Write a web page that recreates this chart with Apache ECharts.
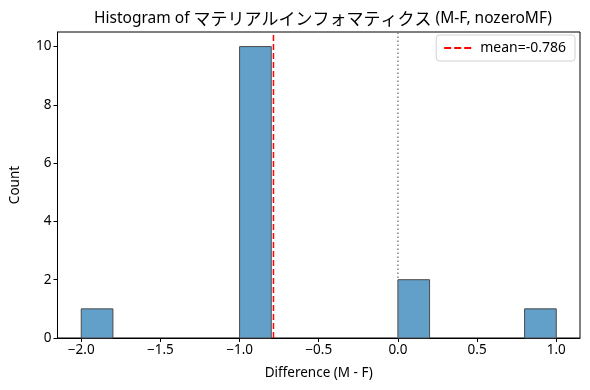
<!DOCTYPE html>
<html><head><meta charset="utf-8">
<script src="https://cdn.jsdelivr.net/npm/echarts@6/dist/echarts.min.js"></script>
<style>html,body{margin:0;padding:0;background:#fff}#c{width:590px;height:390px}</style>
</head><body><div id="c"></div>
<script>
const binStarts = [-2.0, -1.8, -1.6, -1.4, -1.2, -1.0, -0.8, -0.6, -0.4, -0.2, 0.0, 0.2, 0.4, 0.6, 0.8];
const binWidth = 0.2;
const counts = [1, 0, 0, 0, 0, 10, 0, 0, 0, 0, 2, 0, 0, 0, 1];
const meanValue = -0.786;
const zeroLine = 0;
const xTicks = [-2.0, -1.5, -1.0, -0.5, 0.0, 0.5, 1.0];
const yTicks = [0, 2, 4, 6, 8, 10];
const titleParts = ['Histogram of ', 'マテリアルインフォマティクス', ' (M-F, nozeroMF)'];
const xName = 'Difference (M - F)';
const yName = 'Count';
const legendLabel = 'mean=' + meanValue.toFixed(3);

const font = '"Noto Sans", "Noto Sans CJK JP", sans-serif';
const jpFont = '"Noto Sans CJK JP", sans-serif';
const chart = echarts.init(document.getElementById('c'), null, {renderer: 'canvas'});
const fmt = v => (v < 0 ? '\u2212' : '') + Math.abs(v).toFixed(1);
const barData = binStarts.map((s, i) => [s, s + binWidth, counts[i]]).filter(d => d[2] > 0);

chart.setOption({
  animation: false,
  title: {text: '{a|' + titleParts[0] + '}{j|' + titleParts[1] + '}{a|' + titleParts[2] + '}',
    left: 318, top: 4, textAlign: 'center',
    textStyle: {fontWeight: 'normal', rich: {
      a: {fontFamily: font, fontSize: 15.5, fontWeight: 'normal', color: '#000', verticalAlign: 'middle', height: 20},
      j: {fontFamily: jpFont, fontSize: 17, fontWeight: 'normal', color: '#000', verticalAlign: 'middle', height: 20}
    }}},
  grid: {left: 57, right: 10, top: 32, bottom: 52, show: true, borderColor: '#000', borderWidth: 1},
  legend: {show: true, right: 15, top: 35, orient: 'vertical',
    data: [{name: legendLabel, icon: 'path://M0,0 L7,0 L7,2 L0,2 Z M10,0 L17,0 L17,2 L10,2 Z M20,0 L27,0 L27,2 L20,2 Z'}],
    itemWidth: 27, itemHeight: 2, itemGap: 6,
    padding: [6, 9, 6, 8], borderColor: '#d0d0d0', borderWidth: 1, borderRadius: 3,
    textStyle: {fontFamily: font, fontSize: 14, color: '#000', padding: [0, 0, 0, 4]}},
  xAxis: {type: 'value', min: -2.15, max: 1.15,
    name: xName, nameLocation: 'middle', nameGap: 28,
    nameTextStyle: {fontFamily: font, fontSize: 13.5, color: '#000'},
    splitLine: {show: false},
    axisLine: {show: true, onZero: false, lineStyle: {color: '#000'}},
    axisTick: {show: true, customValues: xTicks, length: 4, lineStyle: {color: '#000'}},
    axisLabel: {customValues: xTicks, formatter: fmt, fontFamily: font, fontSize: 13.5, color: '#000', margin: 5}},
  yAxis: {type: 'value', min: 0, max: 10.5,
    name: yName, nameLocation: 'middle', nameGap: 36, nameRotate: 90,
    nameTextStyle: {fontFamily: font, fontSize: 13.5, color: '#000'},
    splitLine: {show: false},
    axisLine: {show: true, onZero: false, lineStyle: {color: '#000'}},
    axisTick: {show: true, customValues: yTicks, length: 4, lineStyle: {color: '#000'}},
    axisLabel: {customValues: yTicks, fontFamily: font, fontSize: 13.5, color: '#000', margin: 6}},
  series: [
    {type: 'custom', name: 'hist', data: barData, encode: {x: [0, 1], y: 2},
      renderItem: (params, api) => {
        const p0 = api.coord([api.value(0), api.value(2)]);
        const p1 = api.coord([api.value(1), 0]);
        return {type: 'rect', shape: {x: p0[0], y: p0[1], width: p1[0] - p0[0], height: p1[1] - p0[1]},
          style: {fill: '#62a0ca', stroke: '#4a4a4a', lineWidth: 1}};
      }, z: 2},
    {type: 'line', name: 'zero', data: [[zeroLine, 0], [zeroLine, 10.5]], symbol: 'none',
      lineStyle: {color: '#808080', width: 1.5, type: [1.5, 2.5]}, z: 3, silent: true},
    {type: 'line', name: legendLabel, data: [[meanValue, 0], [meanValue, 10.5]], symbol: 'none',
      itemStyle: {color: '#ff0000'},
      lineStyle: {color: '#ff0000', width: 1.5, type: [6, 3]}, z: 4, silent: true}
  ]
});
</script></body></html>
